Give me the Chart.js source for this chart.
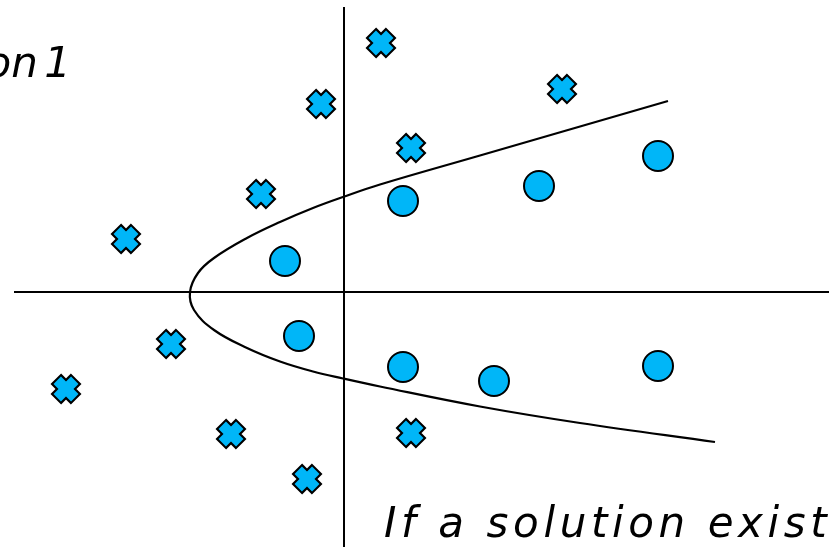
<!DOCTYPE html>
<html>
<head>
<meta charset="utf-8">
<script src="https://cdn.jsdelivr.net/npm/chart.js@4.4.1/dist/chart.umd.min.js"></script>
<style>
body { margin: 0; width: 829px; height: 547px; overflow: hidden; background: #fff; position: relative; }
#grafico { position: absolute; left: 0; top: 0; }
.nota { position: absolute; font-family: "DejaVu Sans", sans-serif; font-style: italic; font-size: 42px; line-height: 1; color: #000; white-space: nowrap; }
</style>
</head>
<body>
<canvas id="grafico" width="829" height="547"></canvas>
<div class="nota" style="right: 758px; top: 42px; word-spacing: -7px;">on 1</div>
<div class="nota" style="left: 384px; top: 502px; letter-spacing: 4.6px;">If a solution exist</div>
<script>
// marcadores X (classe negativa)
var cruzX = [3.7, -2.3, 21.8, 6.7, -8.3, -21.8, -17.3, -27.8, -11.3, 6.7, -3.7];
var cruzY = [24.9, 18.8, 20.3, 14.4, 9.8, 5.3, -5.2, -9.7, -14.2, -14.1, -18.7];

// circulos (classe positiva)
var circX = [-5.9, 5.9, 19.5, 31.4, -4.5, 5.9, 15.0, 31.4];
var circY = [3.1, 9.1, 10.6, 13.6, -4.4, -7.5, -8.9, -7.4];

// fronteira de decisao, lida ponto a ponto (ramo de cima, vertice, ramo de baixo)
var curvaX = [32.4, 13.6, 3.6, -0.1, -3.1, -6.4, -9.7, -13.0, -14.6, -15.4, -15.0, -13.0, -9.7, -6.4, -3.1, -0.1, 3.6, 13.6, 23.6, 37.1];
var curvaY = [19.1, 13.65, 10.75, 9.5, 8.4, 7.0, 5.4, 3.4, 1.9, 0.0, -1.8, -3.8, -5.6, -6.95, -7.95, -8.65, -9.45, -11.45, -13.1, -15.0];

// eixos
var eixoHX = [-33.0, 48.5];
var eixoHY = [0, 0];
var eixoVX = [0, 0];
var eixoVY = [28.5, -25.5];

function pares(xs, ys) {
    return xs.map(function (x, i) { return { x: x, y: ys[i] }; });
}

var azul = '#00b6f8';

var ctx = document.getElementById('grafico').getContext('2d');
var grafico = new Chart(ctx, {
type: 'scatter',
data: {
    datasets: [{
        data: pares(circX, circY),
        pointRadius: 15,
        pointHoverRadius: 15,
        pointBackgroundColor: azul,
        pointBorderColor: '#000',
        pointBorderWidth: 2,
        order: 1
    }, {
        data: pares(cruzX, cruzY),
        pointStyle: 'crossRot',
        pointRadius: 12.4,
        pointHoverRadius: 12.4,
        pointBorderColor: azul,
        pointBorderWidth: 10.5,
        order: 2
    }, {
        data: pares(cruzX, cruzY),
        pointStyle: 'crossRot',
        pointRadius: 14.4,
        pointHoverRadius: 14.4,
        pointBorderColor: '#000',
        pointBorderWidth: 15,
        order: 3
    }, {
        data: pares(curvaX, curvaY),
        showLine: true,
        borderColor: '#000',
        borderWidth: 2.2,
        tension: 0.4,
        pointRadius: 0,
        order: 4
    }, {
        data: pares(eixoHX, eixoHY),
        showLine: true,
        borderColor: '#000',
        borderWidth: 2,
        pointRadius: 0,
        order: 5
    }, {
        data: pares(eixoVX, eixoVY),
        showLine: true,
        borderColor: '#000',
        borderWidth: 2,
        pointRadius: 0,
        order: 5
    }]
},
options: {
    responsive: false,
    animation: false,
    layout: { padding: 0, autoPadding: false },
    scales: {
        x: { display: false, min: -34.4, max: 48.5 },
        y: { display: false, min: -25.5, max: 29.2 }
    },
    plugins: {
        legend: { display: false },
        tooltip: { enabled: false }
    }
}
});
</script>
</body>
</html>
